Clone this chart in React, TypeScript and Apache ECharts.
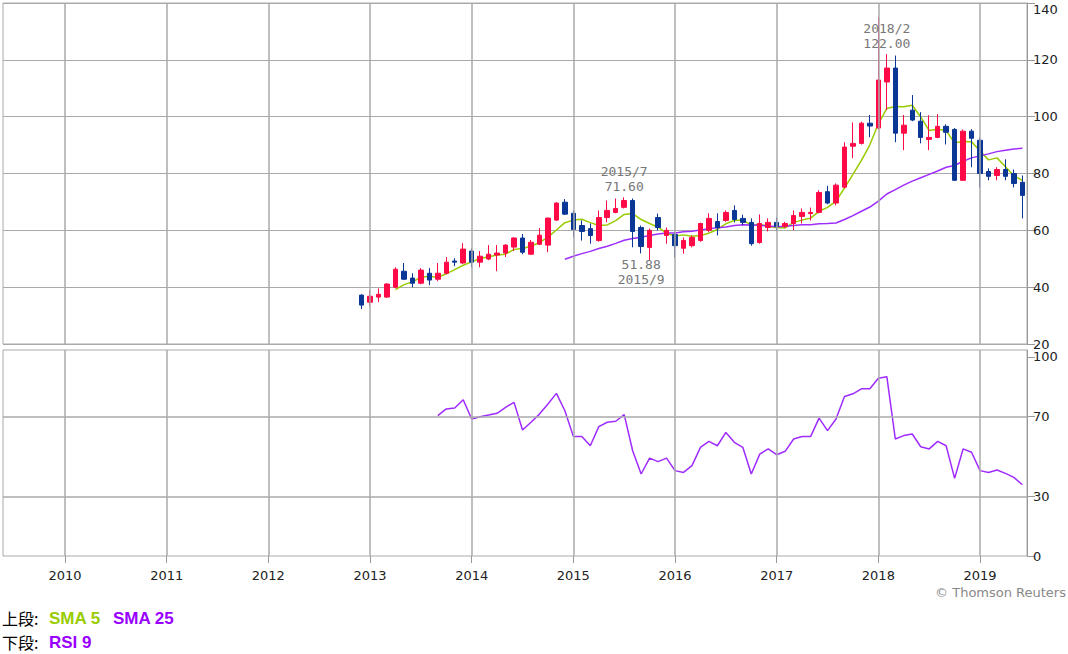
import React, { useEffect, useRef } from 'react';
import * as echarts from 'echarts';

// ---------- categories ----------
const months: string[] = [
  '2012/12',
  '2013/1', '2013/2', '2013/3', '2013/4', '2013/5', '2013/6', '2013/7', '2013/8', '2013/9', '2013/10', '2013/11', '2013/12',
  '2014/1', '2014/2', '2014/3', '2014/4', '2014/5', '2014/6', '2014/7', '2014/8', '2014/9', '2014/10', '2014/11', '2014/12',
  '2015/1', '2015/2', '2015/3', '2015/4', '2015/5', '2015/6', '2015/7', '2015/8', '2015/9', '2015/10', '2015/11', '2015/12',
  '2016/1', '2016/2', '2016/3', '2016/4', '2016/5', '2016/6', '2016/7', '2016/8', '2016/9', '2016/10', '2016/11', '2016/12',
  '2017/1', '2017/2', '2017/3', '2017/4', '2017/5', '2017/6', '2017/7', '2017/8', '2017/9', '2017/10', '2017/11', '2017/12',
  '2018/1', '2018/2', '2018/3', '2018/4', '2018/5', '2018/6', '2018/7', '2018/8', '2018/9', '2018/10', '2018/11', '2018/12',
  '2019/1', '2019/2', '2019/3', '2019/4', '2019/5', '2019/6',
];

// ---------- monthly OHLC ----------
const openP: number[] = [
  37.2,
  34.7, 36.5, 36.5, 40.0, 45.6, 43.2, 41.4, 44.9, 42.8, 44.9, 49.2, 48.5,
  52.7, 48.8, 49.9, 51.3, 52.0, 54.1, 57.3, 51.6, 55.1, 54.8, 63.6, 69.9,
  66.0, 61.7, 60.6, 56.4, 64.5, 66.3, 68.1, 70.5, 61.0, 54.0, 64.5, 58.2,
  58.5, 53.7, 54.6, 56.4, 60.0, 63.1, 63.5, 67.0, 64.2, 62.8, 55.7, 61.0,
  62.8, 61.4, 62.4, 64.9, 65.9, 66.3, 73.6, 69.6, 75.2, 89.6, 90.6, 97.7,
  96.0, 112.2, 117.1, 94.2, 102.3, 98.4, 92.0, 92.7, 96.6, 95.5, 77.6, 94.9,
  91.7, 80.7, 79.3, 81.4, 80.0, 76.9,
];
const closeP: number[] = [
  33.7,
  36.8, 37.5, 41.1, 46.3, 42.8, 41.4, 46.0, 42.5, 44.9, 48.8, 48.8, 53.4,
  48.8, 50.9, 51.6, 52.0, 54.8, 57.3, 52.3, 55.8, 58.3, 64.3, 69.6, 65.7,
  60.3, 59.6, 58.2, 64.5, 67.0, 67.7, 70.5, 59.6, 54.3, 60.0, 61.0, 60.0,
  54.6, 56.4, 57.5, 62.4, 64.2, 61.0, 66.3, 63.8, 62.8, 55.3, 62.4, 62.8,
  61.4, 62.4, 65.2, 66.3, 66.3, 73.3, 69.6, 75.9, 89.3, 90.6, 97.7, 96.7,
  112.9, 117.1, 94.2, 97.0, 98.8, 92.7, 92.7, 96.6, 94.5, 77.6, 94.9, 92.4,
  80.0, 79.0, 81.4, 79.0, 76.5, 72.3,
];
const lowP: number[] = [
  32.3,
  33.3, 34.7, 36.2, 39.6, 42.5, 40.0, 41.0, 40.7, 42.1, 44.5, 47.4, 48.2,
  47.0, 47.0, 49.5, 45.6, 50.6, 52.7, 51.6, 51.3, 54.8, 52.3, 63.3, 65.4,
  57.5, 56.4, 55.3, 56.0, 62.8, 66.0, 67.7, 54.0, 51.88, 49.5, 60.0, 55.3,
  50.4, 51.8, 54.0, 56.0, 59.3, 58.2, 63.0, 62.8, 61.8, 54.6, 55.3, 59.6,
  59.9, 60.7, 60.0, 62.4, 63.5, 66.0, 69.2, 68.8, 74.8, 85.4, 90.2, 92.8,
  95.5, 102.3, 91.0, 88.2, 98.4, 90.6, 88.2, 92.4, 90.2, 77.4, 77.4, 82.2,
  75.1, 77.6, 77.6, 77.6, 75.1, 64.2,
];
const highP: number[] = [
  37.5,
  38.9, 39.6, 41.4, 47.0, 48.5, 44.9, 46.7, 46.7, 48.5, 50.6, 50.2, 55.5,
  53.7, 52.7, 54.8, 54.8, 55.1, 57.6, 58.7, 56.6, 60.8, 64.5, 69.9, 71.0,
  67.0, 63.5, 62.4, 67.0, 70.5, 71.2, 71.6, 71.2, 61.7, 60.6, 65.9, 61.0,
  59.3, 57.5, 58.2, 62.7, 66.0, 66.0, 67.0, 68.8, 65.5, 64.2, 65.6, 64.2,
  64.5, 63.0, 67.0, 67.7, 68.0, 74.1, 75.7, 76.5, 91.0, 98.0, 98.2, 100.6,
  135.0, 122.0, 121.5, 100.6, 107.6, 101.6, 100.5, 100.9, 97.3, 96.0, 95.5, 95.6,
  92.7, 81.8, 82.2, 85.0, 81.4, 79.3,
];

// ---------- indicators ----------
const sma5: (number | null)[] = [
  null, null, null, null,
  39.1, 40.9, 41.8, 43.5, 43.8, 43.5, 44.7, 46.2, 47.7, 48.9,
  50.1, 50.7, 51.3, 51.6, 53.3, 53.6, 54.4, 55.7, 57.6, 60.1,
  62.7, 63.6, 63.9, 62.7, 61.7, 61.9, 63.4, 65.6, 65.9, 63.8,
  62.4, 61.1, 59.0, 58.0, 58.4, 57.9, 58.2, 59.0, 60.3, 62.3,
  63.5, 63.6, 61.8, 62.1, 61.4, 60.9, 60.9, 62.8, 63.6, 64.3,
  66.7, 68.1, 70.3, 74.9, 79.7, 84.6, 90.1, 97.5, 102.9, 103.6,
  103.5, 104.0, 99.9, 95.1, 95.6, 95.1, 90.8, 91.3, 91.2, 87.9,
  84.8, 85.5, 82.4, 79.2, 77.6,
];
const sma25: (number | null)[] = [
  null, null, null, null, null, null, null, null, null, null, null, null,
  null, null, null, null, null, null, null, null, null, null, null, null,
  49.8, 50.9, 51.8, 52.6, 53.6, 54.4, 55.4, 56.5, 57.1, 57.6,
  58.2, 58.7, 59.1, 59.1, 59.5, 59.7, 60.1, 60.6, 60.9, 61.2,
  61.7, 62.0, 61.9, 61.8, 61.5, 61.3, 61.4, 61.7, 62.0, 62.0,
  62.3, 62.4, 62.6, 63.8, 65.2, 66.7, 68.2, 70.3, 72.8, 74.3,
  75.9, 77.3, 78.5, 79.7, 80.9, 82.2, 82.8, 84.3, 85.5, 86.2,
  86.9, 87.7, 88.2, 88.6, 88.9,
];
const rsi9: (number | null)[] = [
  null, null, null, null, null, null, null, null, null,
  70.5, 73.9, 74.4, 78.5, 68.8, 70.0, 70.8, 71.7, 74.7, 77.2,
  63.3, 67.2, 71.3, 76.4, 81.7, 73.0, 60.1, 60.0, 55.4, 65.0,
  67.2, 67.7, 71.0, 52.9, 41.2, 49.2, 47.4, 49.2, 42.9, 42.0,
  45.4, 54.6, 57.6, 55.4, 62.1, 57.1, 54.6, 41.2, 51.2, 53.8,
  50.9, 52.6, 58.8, 60.0, 60.0, 69.3, 63.0, 68.8, 80.1, 81.5,
  84.0, 84.0, 89.3, 90.1, 58.8, 60.5, 61.3, 54.9, 53.8, 57.6,
  55.4, 39.0, 53.8, 52.1, 42.9, 42.0, 43.2, 41.5, 39.5, 35.8,
];

// ---------- ticks / annotations ----------
const yearTicks: number[] = [2010, 2011, 2012, 2013, 2014, 2015, 2016, 2017, 2018, 2019];
const rsiTicks: number[] = [0, 30, 70, 100];
const rsiGridLines: number[] = [30, 70];
const notes = [
  { month: '2015/7', value: 71.6, text: '2015/7\n71.60', pos: 'top' },
  { month: '2015/9', value: 51.88, text: '51.88\n2015/9', pos: 'bottom' },
  { month: '2018/2', value: 122.0, text: '2018/2\n122.00', pos: 'top' },
];

const X_MIN = 2009.39;
const X_MAX = 2019.462;

const GRID_COLOR = '#aaaaaa';
const UP = '#ff0a46';
const DOWN = '#0a3696';
const GREEN = '#99cc00';
const PURPLE = '#9f2cff';

function monthToX(m: string): number {
  const [y, mo] = m.split('/').map(Number);
  return y + (mo - 1) / 12;
}

export default function App() {
  const ref = useRef<HTMLDivElement>(null);

  useEffect(() => {
    if (!ref.current) return;
    const chart = echarts.init(ref.current, null, { renderer: 'svg' });

    const xs = months.map(monthToX);
    const candles = months.map((_, i) => [xs[i], openP[i], closeP[i], lowP[i], highP[i]]);
    const toLine = (arr: (number | null)[]) => arr.map((v, i) => [xs[i], v]);

    const yearMarkLine = {
      silent: true,
      symbol: 'none',
      label: { show: false },
      lineStyle: { color: GRID_COLOR, width: 1.5, type: 'solid' },
      data: yearTicks.map((y) => ({ xAxis: y })),
    };

    const axisFont = { color: '#222', fontSize: 13, fontFamily: 'DejaVu Sans' };

    const option: any = {
      animation: false,
      backgroundColor: '#ffffff',
      textStyle: { fontFamily: 'DejaVu Sans' },
      grid: [
        { left: 3, right: 41, top: 3, height: 341, show: true, borderColor: GRID_COLOR, borderWidth: 1 },
        { left: 3, right: 41, top: 350, height: 206, show: true, borderColor: GRID_COLOR, borderWidth: 1 },
      ],
      xAxis: [
        {
          type: 'value', gridIndex: 0, min: X_MIN, max: X_MAX,
          axisLine: { show: false }, axisTick: { show: false }, axisLabel: { show: false }, splitLine: { show: false },
        },
        {
          type: 'value', gridIndex: 1, min: X_MIN, max: X_MAX,
          axisLine: { show: false },
          axisTick: { show: true, customValues: yearTicks, length: 7, lineStyle: { color: '#999' } },
          axisLabel: { ...axisFont, customValues: yearTicks, margin: 13, formatter: (v: number) => String(Math.round(v)) },
          splitLine: { show: false },
        },
      ],
      yAxis: [
        {
          type: 'value', gridIndex: 0, position: 'right', min: 20, max: 140, interval: 20,
          axisLine: { show: true, lineStyle: { color: '#999' } },
          axisTick: { show: true, length: 8, lineStyle: { color: '#999' } },
          axisLabel: { ...axisFont, margin: 6, verticalAlignMaxLabel: 'top' },
          splitLine: { show: true, lineStyle: { color: GRID_COLOR, width: 1 } },
        },
        {
          type: 'value', gridIndex: 1, position: 'right', min: 0, max: 103.5,
          axisLine: { show: true, lineStyle: { color: '#999' } },
          axisTick: { show: true, length: 8, customValues: rsiTicks, lineStyle: { color: '#999' } },
          axisLabel: { ...axisFont, margin: 6, customValues: rsiTicks },
          splitLine: { show: false },
        },
      ],
      series: [
        {
          type: 'line', xAxisIndex: 0, yAxisIndex: 0, z: 1, data: [], markLine: yearMarkLine,
        },
        {
          type: 'line', xAxisIndex: 1, yAxisIndex: 1, z: 1, data: [],
          markLine: {
            ...yearMarkLine,
            data: [
              ...yearTicks.map((y) => ({ xAxis: y })),
              ...rsiGridLines.map((v) => ({ yAxis: v })),
            ],
          },
        },
        {
          name: 'SMA 5', type: 'line', xAxisIndex: 0, yAxisIndex: 0, z: 2,
          data: toLine(sma5), showSymbol: false, symbol: 'none',
          lineStyle: { color: GREEN, width: 1.5 },
        },
        {
          name: 'SMA 25', type: 'line', xAxisIndex: 0, yAxisIndex: 0, z: 2,
          data: toLine(sma25), showSymbol: false, symbol: 'none',
          lineStyle: { color: PURPLE, width: 1.5 },
        },
        {
          name: 'Price', type: 'candlestick', xAxisIndex: 0, yAxisIndex: 0, z: 3,
          barWidth: 5,
          encode: { x: 0, y: [1, 2, 3, 4] },
          data: candles,
          itemStyle: { color: UP, color0: DOWN, borderColor: UP, borderColor0: DOWN, borderWidth: 1 },
          markPoint: {
            symbol: 'circle', symbolSize: 1,
            itemStyle: { color: 'rgba(0,0,0,0)' },
            data: notes.map((n) => ({
              coord: [monthToX(n.month), n.value],
              label: {
                show: true, position: n.pos, distance: 3, formatter: n.text,
                fontFamily: 'DejaVu Sans Mono', fontSize: 13, lineHeight: 15, color: '#777',
              },
            })),
          },
        },
        {
          name: 'RSI 9', type: 'line', xAxisIndex: 1, yAxisIndex: 1, z: 2,
          data: toLine(rsi9), showSymbol: false, symbol: 'none',
          lineStyle: { color: PURPLE, width: 1.5 },
        },
      ],
      graphic: [
        { type: 'text', x: 2, y: 618, style: { text: '上段:', font: '16px "Noto Sans CJK JP"', lineHeight: 18, fill: '#000', verticalAlign: 'middle' } },
        { type: 'text', x: 49, y: 618, style: { text: 'SMA 5', font: 'bold 17px "Liberation Sans"', lineHeight: 18, fill: GREEN, verticalAlign: 'middle' } },
        { type: 'text', x: 113, y: 618, style: { text: 'SMA 25', font: 'bold 17px "Liberation Sans"', lineHeight: 18, fill: '#9900ff', verticalAlign: 'middle' } },
        { type: 'text', x: 2, y: 642, style: { text: '下段:', font: '16px "Noto Sans CJK JP"', lineHeight: 18, fill: '#000', verticalAlign: 'middle' } },
        { type: 'text', x: 49, y: 642, style: { text: 'RSI 9', font: 'bold 17px "Liberation Sans"', lineHeight: 18, fill: '#9900ff', verticalAlign: 'middle' } },
        { type: 'text', x: 1066, y: 592, style: { text: '© Thomson Reuters', font: '13px "DejaVu Sans"', fill: '#888', align: 'right', verticalAlign: 'middle' } },
      ],
    };

    chart.setOption(option);
    return () => chart.dispose();
  }, []);

  return (
    <div
      ref={ref}
      style={{ position: 'absolute', left: 0, top: 0, width: 1068, height: 654, background: '#fff' }}
    />
  );
}
